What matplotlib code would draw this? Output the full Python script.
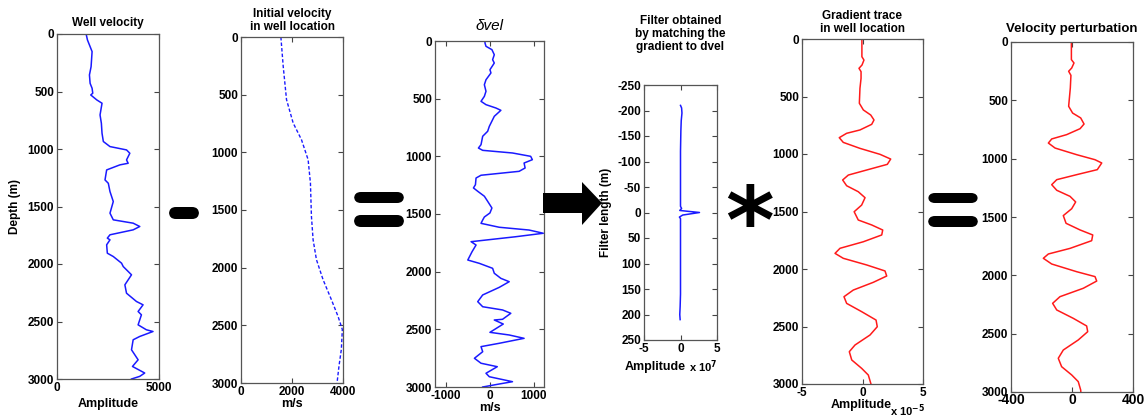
import numpy as np
import matplotlib
matplotlib.use("Agg")
import matplotlib.pyplot as plt
from matplotlib.patches import FancyBboxPatch, Polygon

plt.rcParams['font.family'] = ['Liberation Sans', 'DejaVu Sans']
plt.rcParams['font.weight'] = 'bold'
plt.rcParams['axes.labelweight'] = 'bold'
plt.rcParams['axes.titleweight'] = 'bold'
plt.rcParams['axes.unicode_minus'] = False

# well velocity log (depth m, velocity)
well_depth = [0, 52, 124, 153, 284, 356, 429, 472, 515, 530, 573, 602, 704, 776, 863, 935,
              979, 1008, 1037, 1095, 1124, 1138, 1182, 1269, 1298, 1370, 1457, 1558, 1616,
              1645, 1674, 1703, 1746, 1775, 1790, 1833, 1906, 1935, 1993, 2022, 2094, 2181,
              2254, 2326, 2355, 2413, 2442, 2529, 2572, 2587, 2630, 2659, 2746, 2833, 2891,
              2948, 2977, 3000]
well_vel = [1428, 1493, 1655, 1720, 1671, 1590, 1623, 1720, 1753, 1655, 1948, 2207, 2110,
            2175, 2207, 2272, 2597, 3408, 3570, 3408, 3489, 3083, 2434, 2353, 2515, 2597,
            2759, 2597, 2759, 3733, 4057, 3733, 2597, 2467, 2597, 2434, 2467, 2759, 3165,
            3246, 3652, 3327, 3408, 3895, 4219, 3976, 4138, 3976, 4381, 4706, 4057, 3733,
            3652, 3976, 3700, 4300, 4057, 3652]

# smooth starting model at the well
init_depth = [0, 254, 543, 746, 890, 1064, 1266, 1555, 1757, 1930, 2104, 2277, 2422, 2536,
              2709, 2851, 3000]
init_vel = [1564, 1655, 1785, 2046, 2371, 2632, 2723, 2762, 2827, 2958, 3218, 3544, 3805,
            3974, 3935, 3844, 3766]

# velocity difference
dvel_depth = [0, 17, 46, 75, 119, 162, 191, 249, 277, 336, 379, 436, 480, 523, 552, 581,
              601, 653, 740, 783, 826, 899, 928, 948, 971, 1000, 1029, 1058, 1101, 1130,
              1164, 1188, 1246, 1274, 1303, 1346, 1390, 1448, 1491, 1526, 1552, 1581, 1615,
              1639, 1667, 1697, 1740, 1769, 1827, 1899, 1928, 1971, 2014, 2058, 2087, 2136,
              2202, 2260, 2304, 2332, 2361, 2413, 2419, 2454, 2526, 2549, 2578, 2621, 2650,
              2694, 2751, 2794, 2824, 2881, 2911, 2954, 2974, 3000]
dvel = [-110, -113, -90, 45, 99, 61, 99, 0, 23, -90, -127, -90, -127, -203, -90, 136, 249,
        99, -14, -52, -165, -203, -262, -165, 513, 927, 965, 777, 800, 664, -203, -316, -330,
        -375, -278, -127, -52, 45, 0, -127, -165, -203, 212, 890, 1214, 588, -429, -316,
        -407, -504, -240, 61, 99, 249, 438, 212, -165, -278, -165, 287, 475, 287, 99, 303,
        0, 438, 777, 212, -203, -165, -353, -203, 167, -90, -14, 513, 212, -165]

# matching filter (lag m, amplitude x 1e7)
filt_lag = [-210, -205, -195, -180, -160, -120, -80, -40, -12, -8, -4, 0, 5, 9, 12, 40, 80,
            120, 160, 185, 200, 210]
filt_amp = [0.0, 0.15, 0.2, 0.1, 0.05, 0.0, 0.0, 0.0, 0.0, 0.15, -0.1, 2.6, 0.3, -0.15,
            0.0, 0.0, 0.0, 0.0, 0.0, -0.05, -0.1, -0.05]

# gradient trace (x 1e-5)
grad_depth = [0, 154, 183, 226, 255, 284, 342, 429, 559, 617, 661, 704, 742, 791, 820, 858,
              899, 951, 1003, 1044, 1090, 1139, 1183, 1226, 1276, 1328, 1380, 1444, 1502,
              1574, 1617, 1661, 1704, 1763, 1820, 1864, 1907, 1965, 2017, 2061, 2116, 2183,
              2241, 2299, 2371, 2444, 2502, 2574, 2661, 2719, 2791, 2864, 2922, 3000]
grad = [-0.05, -0.05, 0.12, -0.04, -0.29, -0.12, -0.12, -0.21, -0.26, 0.07, 0.68, 0.95,
        0.76, -0.21, -1.31, -1.92, -1.59, -0.21, 1.45, 2.33, 2.05, 0.35, -1.17, -1.64, -1.31,
        -0.35, 0.21, -0.07, -0.69, -0.35, 0.76, 1.67, 1.59, 0.07, -1.86, -2.27, -1.59, 0.35,
        1.86, 2.0, 0.89, -0.76, -1.53, -1.31, -0.07, 1.12, 1.22, 0.62, -0.62, -1.09, -0.89,
        -0.07, 0.48, 0.7]

# filtered gradient -> velocity perturbation
pert_depth = [0, 151, 180, 223, 251, 286, 394, 551, 609, 651, 703, 743, 794, 831, 866, 909,
              966, 1009, 1037, 1094, 1137, 1180, 1223, 1271, 1323, 1371, 1429, 1488, 1554,
              1611, 1654, 1703, 1769, 1817, 1854, 1903, 1969, 2011, 2049, 2111, 2183, 2240,
              2297, 2369, 2434, 2483, 2554, 2640, 2711, 2783, 2854, 2911, 2983, 3000]
pert = [-4, -4, 13, -2, -22, -7, -11, -22, 4, 57, 79, 53, -35, -133, -155, -111, 31, 151,
        195, 166, 31, -100, -133, -100, -13, 24, -2, -57, -39, 53, 136, 129, -13, -155, -188,
        -133, 31, 151, 162, 74, -79, -127, -100, 9, 96, 103, 41, -57, -90, -68, -2, 41, 57,
        58]

W, H = 1146, 420
fig = plt.figure(figsize=(W / 100, H / 100), dpi=100)


def add_panel(l, r, t, b):
    ax = fig.add_axes([l / W, 1 - b / H, (r - l) / W, (b - t) / H])
    ax.tick_params(direction='in', top=True, right=True, length=3.5, labelsize=8.5,
                   pad=2, color='#444444')
    for s in ax.spines.values():
        s.set_color('#555555')
        s.set_linewidth(0.9)
    return ax


blue = '#1a1aff'
red = '#ff1a1a'
depth_ticks = [0, 500, 1000, 1500, 2000, 2500, 3000]

ax1 = add_panel(57, 159, 34, 379)
ax1.plot(well_vel, well_depth, color=blue, lw=1.1)
ax1.set_xlim(0, 5000)
ax1.set_ylim(3000, 0)
ax1.set_xticks([0, 5000])
ax1.set_yticks(depth_ticks)
ax1.set_title('Well velocity', fontsize=8.5, pad=6)
ax1.set_xlabel('Amplitude', fontsize=9, labelpad=3)
ax1.set_ylabel('Depth (m)', fontsize=8.5, labelpad=5)

ax2 = add_panel(241, 343, 37, 383)
ax2.plot(init_vel, init_depth, color=blue, lw=1.0, ls='--', dashes=(2.5, 1.5))
ax2.set_xlim(0, 4000)
ax2.set_ylim(3000, 0)
ax2.set_xticks([0, 2000, 4000])
ax2.set_yticks(depth_ticks)
ax2.set_title('Initial velocity\nin well location', fontsize=8.5, pad=5, linespacing=1.1)
ax2.set_xlabel('m/s', fontsize=9, labelpad=0)

ax3 = add_panel(435, 544, 41, 387)
ax3.plot(dvel, dvel_depth, color=blue, lw=1.1)
ax3.set_xlim(-1250, 1230)
ax3.set_ylim(3000, 0)
ax3.set_xticks([-1000, 0, 1000])
ax3.set_yticks(depth_ticks)
ax3.set_title('δvel', fontsize=11, fontweight='normal', style='italic', pad=8)
ax3.set_xlabel('m/s', fontsize=9, labelpad=0)

ax4 = add_panel(644, 717, 85, 340)
ax4.plot(filt_amp, filt_lag, color=blue, lw=1.1)
ax4.set_xlim(-5, 5)
ax4.set_ylim(250, -250)
ax4.set_xticks([-5, 0, 5])
ax4.set_yticks(np.arange(-250, 251, 50))
ax4.set_title('Filter obtained\nby matching the\ngradient to dvel', fontsize=8.5, pad=25,
              linespacing=1.15)
ax4.set_ylabel('Filter length (m)', fontsize=8.5, labelpad=4)
fig.text(655 / W, 1 - 367 / H, 'Amplitude', fontsize=9, ha='center', va='center')
fig.text(703 / W, 1 - 367 / H, 'x 10$^{\\mathbf{7}}$', fontsize=8, ha='center', va='center')

ax5 = add_panel(802, 923, 39, 384)
ax5.plot(grad, grad_depth, color=red, lw=1.1)
ax5.set_xlim(-5, 5)
ax5.set_ylim(3000, 0)
ax5.set_xticks([-5, 0, 5])
ax5.set_yticks(depth_ticks)
ax5.set_title('Gradient trace\nin well location', fontsize=8.5, pad=5, linespacing=1.1)
fig.text(861 / W, 1 - 405 / H, 'Amplitude', fontsize=9, ha='center', va='center')
fig.text(908 / W, 1 - 411 / H, 'x 10$^{\\mathbf{-5}}$', fontsize=8, ha='center', va='center')

ax6 = add_panel(1011, 1133, 42, 392)
ax6.plot(pert, pert_depth, color=red, lw=1.1)
ax6.set_xlim(-400, 400)
ax6.set_ylim(3000, 0)
ax6.set_xticks([-400, 0, 400])
ax6.set_yticks(depth_ticks)
ax6.tick_params(axis='x', labelsize=10, pad=1)
ax6.set_title('Velocity perturbation', fontsize=9.5, pad=7)


def bar(x0, y0, x1, y1):
    fig.patches.append(FancyBboxPatch((x0 / W, 1 - y1 / H), (x1 - x0) / W, (y1 - y0) / H,
                                      boxstyle='round,pad=0,rounding_size=0.006',
                                      transform=fig.transFigure, fc='black', ec='none',
                                      mutation_aspect=W / H))


# operators between the panels
bar(169, 207, 199, 219)
bar(354, 192, 404, 203)
bar(354, 215, 404, 227)
bar(928, 193, 978, 203)
bar(928, 216, 978, 227)

arrow = [(543, 193), (582, 193), (582, 182), (602, 203), (582, 225), (582, 213), (543, 213)]
fig.patches.append(Polygon([(x / W, 1 - y / H) for x, y in arrow], closed=True,
                           transform=fig.transFigure, fc='black', ec='none'))

fig.text(749 / W, 1 - 227 / H, '*', fontsize=67, fontweight='bold', ha='center',
         va='center', family='DejaVu Sans')

fig.savefig('out.png', dpi=100)
